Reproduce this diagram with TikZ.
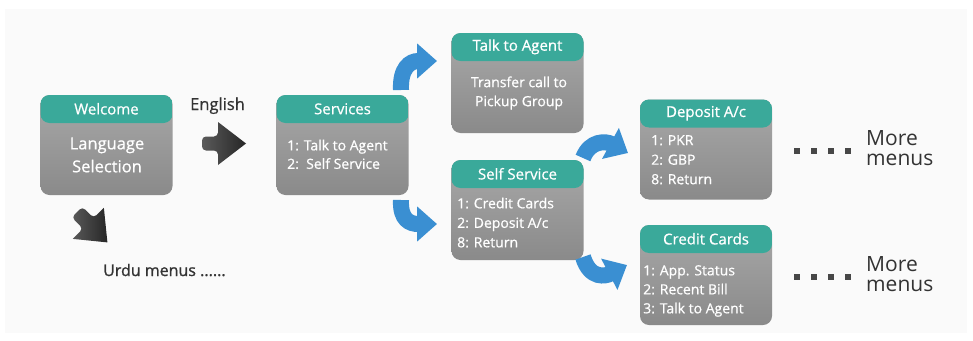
\documentclass[tikz,border=0pt]{standalone}
\usepackage{fontspec}
\setmainfont{Open Sans}
\newfontfamily\semib[FakeBold=1.2]{Open Sans}
\newfontfamily\medw[FakeBold=0.7]{Open Sans}
\usetikzlibrary{arrows.meta}
\definecolor{hdr}{HTML}{3AA99A}
\definecolor{gtop}{HTML}{A8A8A8}
\definecolor{gbot}{HTML}{8A8A8A}
\definecolor{blu}{HTML}{3A8FD2}
\definecolor{ink}{HTML}{333333}
\definecolor{panel}{HTML}{FAFAFA}
\definecolor{darka}{HTML}{5A5A5A}
\definecolor{darkb}{HTML}{262626}
\begin{document}
\begin{tikzpicture}[x=1pt,y=-1pt,
  menubox/.style={rectangle, rounded corners=9pt, minimum width=132pt, minimum height=100pt,
    top color=gtop, bottom color=gbot, draw=none, inner sep=0pt,
    path picture={\fill[hdr] (path picture bounding box.north west) rectangle ([yshift=-28pt]path picture bounding box.north east);}},
  title/.style={text=white, font=\fontsize{15}{17}\selectfont\medw, inner sep=0pt},
  body/.style={text=white, font=\fontsize{14}{19}\selectfont\medw, inner sep=0pt},
  lab/.style={text=ink, inner sep=0pt},
  more/.style={text=ink, font=\fontsize{21}{20}\selectfont, align=left, inner sep=0pt, anchor=west},
  curvy/.style={draw=blu, line width=16pt, line cap=butt, -{Triangle[width=34pt,length=20pt]}},
  dot/.style={fill=ink!90}
]
\useasboundingbox (0,0) rectangle (973,340);
\fill[white] (0,0) rectangle (973,340);
\fill[panel] (5,9) rectangle (967,333);

% boxes
\node[menubox] (welcome) at (106.5,145) {};
\node[menubox] (services) at (342.5,145) {};
\node[menubox] (talk) at (517.5,83) {};
\node[menubox] (self) at (517.5,210) {};
\node[menubox] (deposit) at (706,149.5) {};
\node[menubox] (credit) at (706,275) {};

% titles
\node[title] (welcomeT) at ([yshift=-14pt]welcome.north) {Welcome};
\node[title] (servicesT) at ([yshift=-14pt]services.north) {Services};
\node[title] (talkT) at ([yshift=-14pt]talk.north) {Talk to Agent};
\node[title] (selfT) at ([yshift=-14pt]self.north) {Self Service};
\node[title] (depositT) at ([yshift=-14pt]deposit.north) {Deposit A/c};
\node[title] (creditT) at ([yshift=-14pt]credit.north) {Credit Cards};

% bodies
\node[body, font=\fontsize{16.5}{23}\selectfont\medw, align=center] (welcomeB) at (107,155) {Language\\Selection};
\node[body, align=left, anchor=north west, font=\fontsize{14}{18.5}\selectfont\medw] (servicesB) at (287,139.5) {1: Talk to Agent\\2:\ \ Self Service};
\node[body, align=center] (talkB) at (519,93) {Transfer call to\\Pickup Group};
\node[body, align=left, anchor=north west, font=\fontsize{14}{19.5}\selectfont\medw] (selfB) at (457,197.5) {1: Credit Cards\\2: Deposit A/c\\8: Return};
\node[body, align=left, anchor=north west, font=\fontsize{14}{19.5}\selectfont\medw] (depositB) at (651,135) {1: PKR\\2: GBP\\8: Return};
\node[body, align=left, anchor=north west] (creditB) at (643,265) {1: App. Status\\2: Recent Bill\\3: Talk to Agent};

% labels
\node[lab, font=\fontsize{16.5}{18}\selectfont\medw, anchor=base west] (english) at (190,110) {English};
\node[lab, font=\fontsize{16}{18}\selectfont\semib, anchor=base west] (urdu) at (103,276) {Urdu menus ......};

% dark arrows
\shade[left color=darka, right color=darkb, rounded corners=4pt]
  (202,136.5) -- (218,136.5) [sharp corners] -- (218,122) -- (246,143.5) -- (218,165) [rounded corners=4pt] -- (218,150.5) -- (202,150.5) -- cycle;
\begin{scope}[shift={(77,212)}, rotate=-45]
\shade[left color=darka, right color=darkb, rounded corners=4pt]
  (0,-7.5) -- (16,-7.5) [sharp corners] -- (16,-22) -- (43,0) -- (16,22) [rounded corners=4pt] -- (16,7.5) -- (0,7.5) -- cycle;
\end{scope}

% blue curved arrows
\coordinate (a1s) at (401,90);  \coordinate (a1e) at (437,61);
\coordinate (a2s) at (401,200); \coordinate (a2e) at (437,224);
\coordinate (a3s) at (583,158); \coordinate (a3e) at (628,153);
\coordinate (a4s) at (583,257); \coordinate (a4e) at (627,265);
\draw[curvy] (a1s) .. controls (400,68) and (410,61) .. (a1e);
\draw[curvy] (a2s) .. controls (400,220) and (410,224) .. (a2e);
\draw[curvy] (a3s) .. controls (590,140) and (606,141) .. (a3e);
\draw[curvy] (a4s) .. controls (590,280) and (606,276) .. (a4e);

% more menus
\foreach \x in {797,814,831,848} {\fill[dot] (\x-3,148) rectangle (\x+3,154);}
\foreach \x in {797,814,831,848} {\fill[dot] (\x-3,274) rectangle (\x+3,280);}
\node[more] (more1) at (866,148) {More\\menus};
\node[more] (more2) at (866,274) {More\\menus};
\end{tikzpicture}
\end{document}
